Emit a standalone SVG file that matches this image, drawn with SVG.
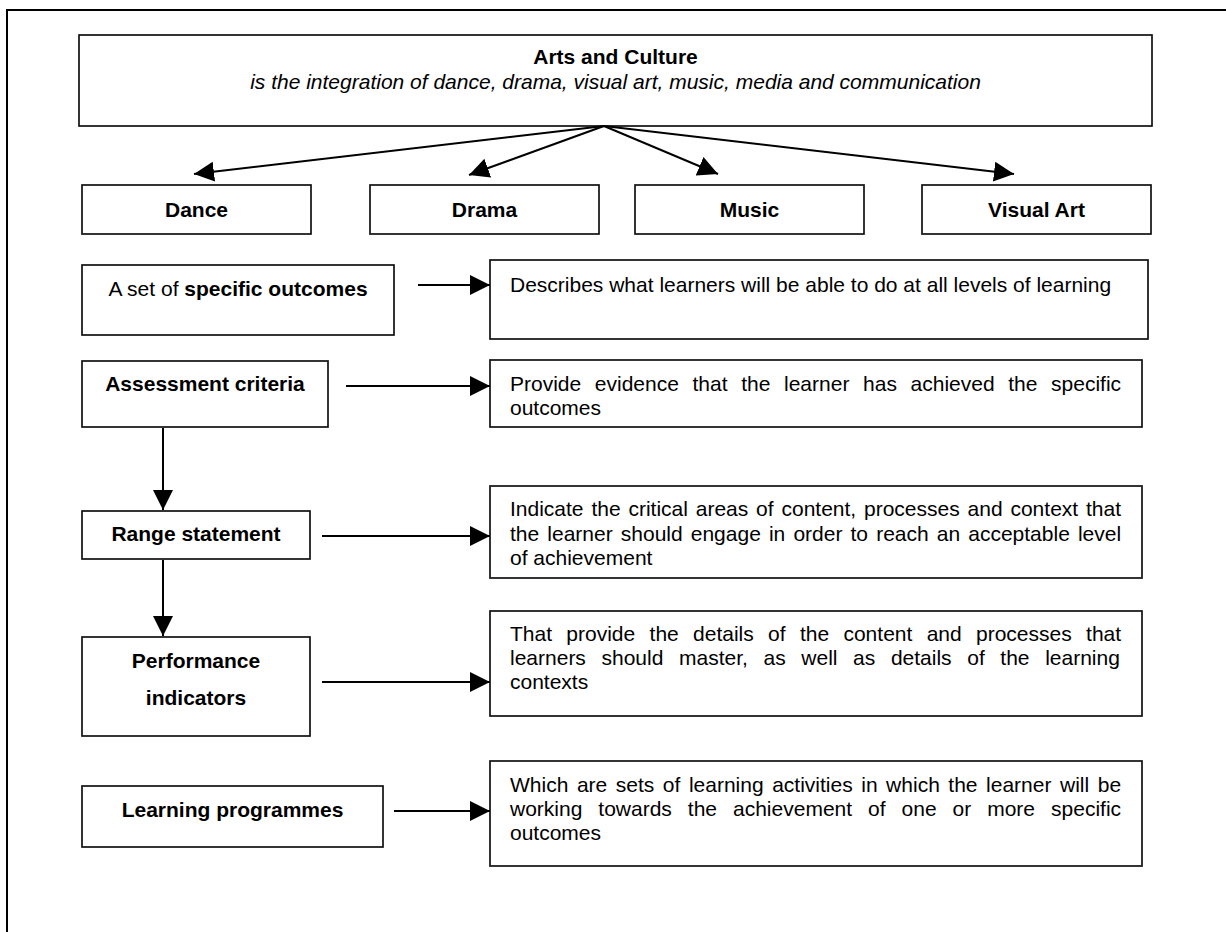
<svg xmlns="http://www.w3.org/2000/svg" width="1226" height="932" viewBox="0 0 1226 932">
  <style>
    .box { fill: #fff; stroke: #111; stroke-width: 1.7; }
    .wire { fill: none; stroke: #000; stroke-width: 2; }
    .frame { fill: none; stroke: #000; stroke-width: 2; }
    text { font-family: "Liberation Sans", Arial, sans-serif; font-size: 21px; fill: #000; }
    .b { font-weight: bold; }
    .c { text-anchor: middle; }
    .i { font-style: italic; }
  </style>
  <defs>
    <marker id="head" viewBox="0 0 20 20" markerUnits="userSpaceOnUse" markerWidth="20" markerHeight="20" refX="20" refY="10" orient="auto">
      <path d="M0,0 L20,10 L0,20 z" fill="#000"/>
    </marker>
  </defs>

  <rect width="1226" height="932" fill="#fff"/>
  <!-- page frame (only top and left edges fall inside the view) -->
  <path class="frame" d="M7,932 V10 H1226"/>

  <g id="arts-and-culture">
    <rect class="box" x="79" y="35" width="1073" height="91"/>
    <text class="b c" x="615.5" y="64">Arts and Culture</text>
    <text class="i c" x="615.5" y="89">is the integration of dance, drama, visual art, music, media and communication</text>
  </g>

  <g id="dance">
    <rect class="box" x="82" y="185" width="229" height="49"/>
    <text class="b c" x="196.5" y="217">Dance</text>
  </g>
  <g id="drama">
    <rect class="box" x="370" y="185" width="229" height="49"/>
    <text class="b c" x="484.5" y="217">Drama</text>
  </g>
  <g id="music">
    <rect class="box" x="635" y="185" width="229" height="49"/>
    <text class="b c" x="749.5" y="217">Music</text>
  </g>
  <g id="visual-art">
    <rect class="box" x="922" y="185" width="229" height="49"/>
    <text class="b c" x="1036.5" y="217">Visual Art</text>
  </g>

  <g id="specific-outcomes">
    <rect class="box" x="82" y="265" width="312" height="70"/>
    <text class="c" x="238" y="296">A set of <tspan class="b">specific outcomes</tspan></text>
  </g>
  <g id="specific-outcomes-desc">
    <rect class="box" x="490" y="260" width="658" height="79"/>
    <text x="510" y="292">Describes what learners will be able to do at all levels of learning</text>
  </g>

  <g id="assessment-criteria">
    <rect class="box" x="82" y="361" width="246" height="66"/>
    <text class="b c" x="205" y="391">Assessment criteria</text>
  </g>
  <g id="assessment-criteria-desc">
    <rect class="box" x="490" y="360" width="652" height="67"/>
    <text x="510" y="391" word-spacing="7.8">Provide evidence that the learner has achieved the specific</text>
    <text x="510" y="415">outcomes</text>
  </g>

  <g id="range-statement">
    <rect class="box" x="82" y="511" width="228" height="48"/>
    <text class="b c" x="196" y="541">Range statement</text>
  </g>
  <g id="range-statement-desc">
    <rect class="box" x="490" y="486" width="652" height="92"/>
    <text x="510" y="516" word-spacing="2.0">Indicate the critical areas of content, processes and context that</text>
    <text x="510" y="540.5" word-spacing="2.27">the learner should engage in order to reach an acceptable level</text>
    <text x="510" y="565">of achievement</text>
  </g>

  <g id="performance-indicators">
    <rect class="box" x="82" y="637" width="228" height="99"/>
    <text class="b c" x="196" y="668">Performance</text>
    <text class="b c" x="196" y="705">indicators</text>
  </g>
  <g id="performance-indicators-desc">
    <rect class="box" x="490" y="611" width="652" height="105"/>
    <text x="510" y="641" word-spacing="8.49">That provide the details of the content and processes that</text>
    <text x="510" y="665" word-spacing="9.79">learners should master, as well as details of the learning</text>
    <text x="510" y="689">contexts</text>
  </g>

  <g id="learning-programmes">
    <rect class="box" x="82" y="786" width="301" height="61"/>
    <text class="b c" x="232.5" y="817">Learning programmes</text>
  </g>
  <g id="learning-programmes-desc">
    <rect class="box" x="490" y="761" width="652" height="105"/>
    <text x="510" y="792" word-spacing="2.71">Which are sets of learning activities in which the learner will be</text>
    <text x="510" y="816" word-spacing="10.14">working towards the achievement of one or more specific</text>
    <text x="510" y="840">outcomes</text>
  </g>

  <g id="connectors" marker-end="url(#head)">
    <line class="wire" x1="604" y1="126" x2="194" y2="174" marker-end="url(#head)"/>
    <line class="wire" x1="604" y1="126" x2="469" y2="175" marker-end="url(#head)"/>
    <line class="wire" x1="604" y1="126" x2="718" y2="174" marker-end="url(#head)"/>
    <line class="wire" x1="604" y1="126" x2="1014" y2="174" marker-end="url(#head)"/>
    <line class="wire" x1="418" y1="285" x2="490" y2="285" marker-end="url(#head)"/>
    <line class="wire" x1="346" y1="386" x2="490" y2="386" marker-end="url(#head)"/>
    <line class="wire" x1="322" y1="536" x2="490" y2="536" marker-end="url(#head)"/>
    <line class="wire" x1="322" y1="682" x2="490" y2="682" marker-end="url(#head)"/>
    <line class="wire" x1="394" y1="811" x2="490" y2="811" marker-end="url(#head)"/>
    <line class="wire" x1="163" y1="428" x2="163" y2="510" marker-end="url(#head)"/>
    <line class="wire" x1="163" y1="560" x2="163" y2="636" marker-end="url(#head)"/>
  </g>
</svg>
